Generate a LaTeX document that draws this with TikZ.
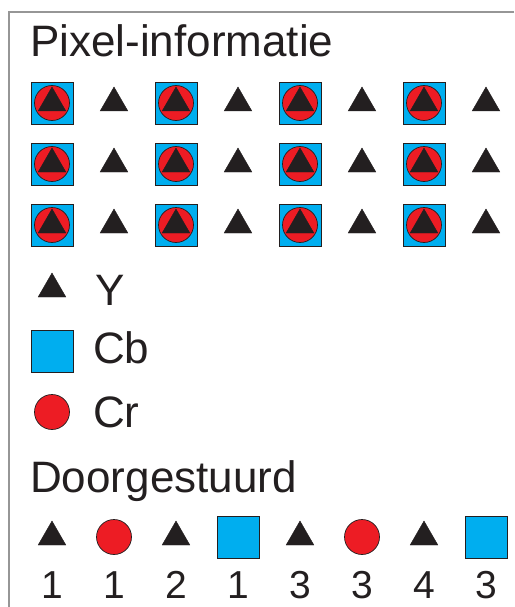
\documentclass[tikz,border=0pt]{standalone}
\usepackage{fontspec}
\setmainfont{Liberation Sans}
\usetikzlibrary{shapes.geometric}

\definecolor{cbblue}{RGB}{0,174,239}
\definecolor{crred}{RGB}{237,28,36}
\definecolor{ink}{RGB}{35,31,32}
\definecolor{framegray}{RGB}{150,150,150}

\tikzset{
  luma/.style={regular polygon, regular polygon sides=3, fill=ink, draw=ink,
    line width=0.4pt, inner sep=0pt, minimum size=32pt},
  chromab/.style={rectangle, fill=cbblue, draw=ink, line width=0.7pt,
    minimum size=42pt, inner sep=0pt},
  chromar/.style={circle, fill=crred, draw=ink, line width=0.7pt,
    minimum size=35pt, inner sep=0pt},
  heading/.style={anchor=base west, inner sep=0pt, text=ink,
    font=\fontsize{44}{50}\selectfont},
  legendtxt/.style={anchor=base west, inner sep=0pt, text=ink,
    font=\fontsize{44}{50}\selectfont},
  seqnum/.style={anchor=base, inner sep=0pt, text=ink,
    font=\fontsize{39}{46}\selectfont},
}

\begin{document}
\begin{tikzpicture}[x=1pt, y=-1pt]
  \useasboundingbox (0,0) rectangle (514,607);
  % frame
  \draw[framegray, line width=2pt] (514,12) -- (9,12) -- (9,607);

  \node[heading] (title) at (30,57) {Pixel-informatie};

  % pixel grid: Y on every pixel, Cb and Cr on every other one
  \foreach \r/\y in {1/103, 2/164, 3/225} {
    \foreach \c [evaluate=\c as \xa using 52+124*\c,
                 evaluate=\c as \xb using 114+124*\c] in {0,...,3} {
      \node[chromab] (sq-\r-\c) at (\xa,\y) {};
      \node[chromar] (ci-\r-\c) at (\xa,\y) {};
      \node[luma]    (ya-\r-\c) at (\xa,\y) {};
      \node[luma]    (yb-\r-\c) at (\xb,\y) {};
    }
  }

  % legend
  \node[luma]    (key-y)  at (52,289) {};
  \node[legendtxt] (txt-y) at (95,305) {Y};
  \node[chromab] (key-cb) at (52,351) {};
  \node[legendtxt] (txt-cb) at (93,363) {Cb};
  \node[chromar] (key-cr) at (52,412) {};
  \node[legendtxt] (txt-cr) at (93,427) {Cr};

  \node[heading] (sent) at (30,492) {Doorgestuurd};

  % transmitted sequence
  \foreach \s/\n [count=\i from 0, evaluate=\i as \x using 52+62*\i]
      in {luma/1, chromar/1, luma/2, chromab/1, luma/3, chromar/3, luma/4, chromab/3} {
    \node[\s] (seq-\i) at (\x,537) {};
    \node[seqnum] (num-\i) at (\x,598) {\n};
  }
\end{tikzpicture}
\end{document}
